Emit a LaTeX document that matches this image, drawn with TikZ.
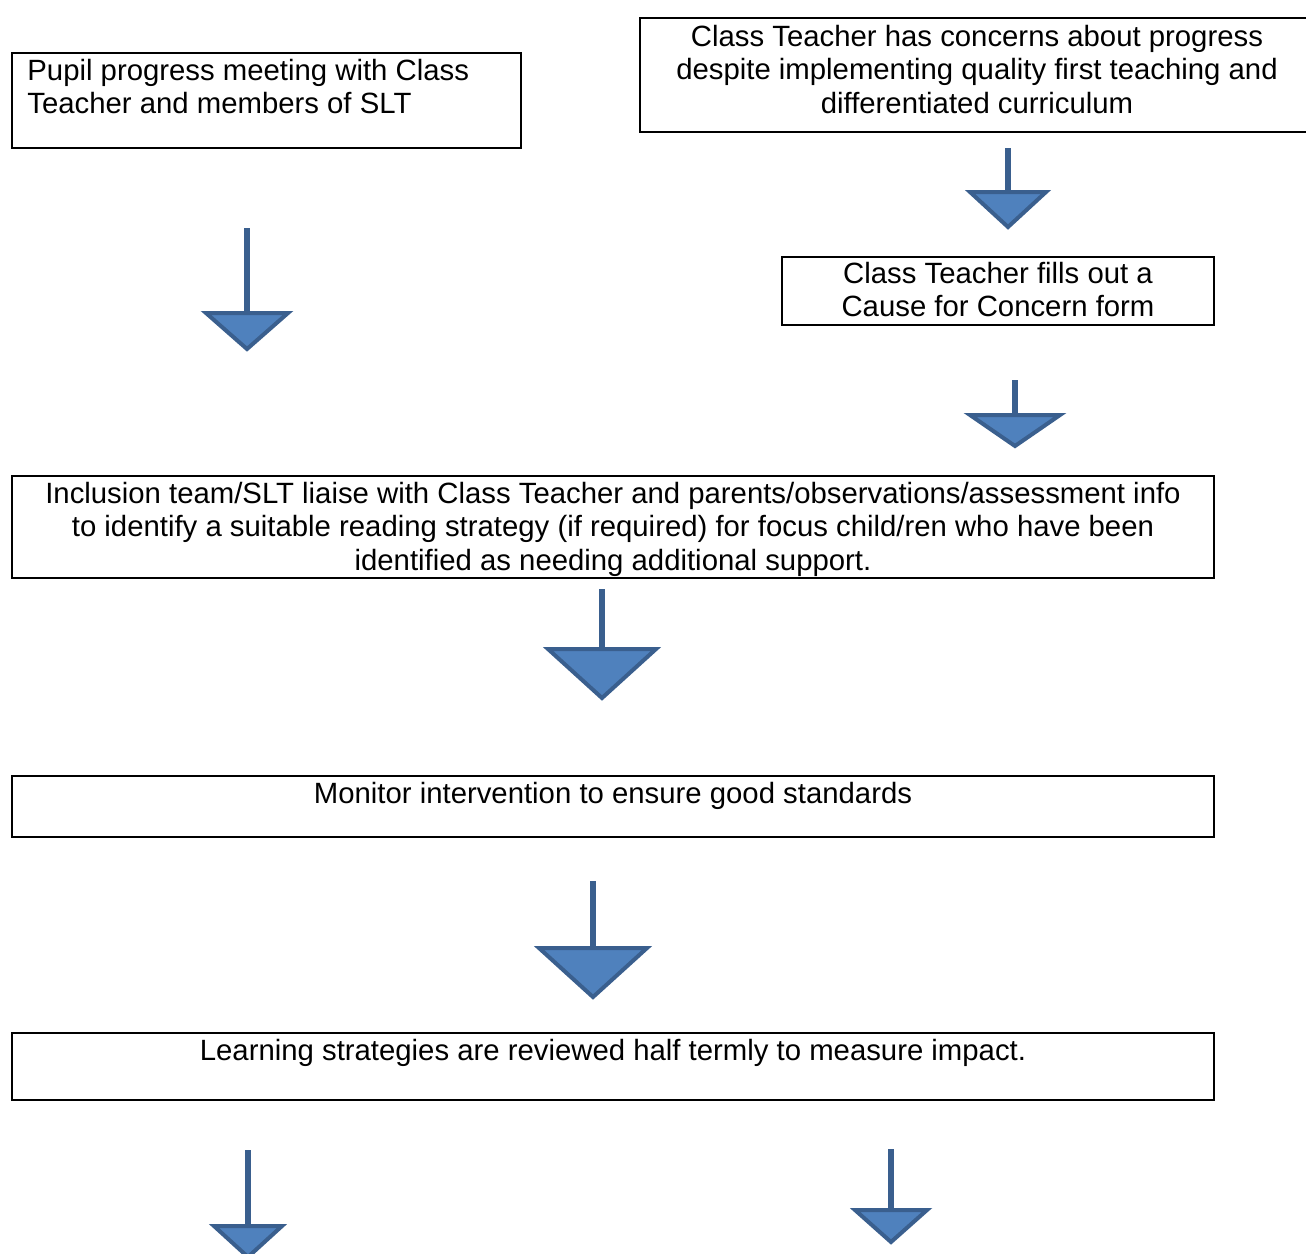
\documentclass[tikz,border=0pt]{standalone}
\usepackage{fontspec}
\setmainfont{Liberation Sans}
\definecolor{arrowfill}{HTML}{4F81BD}
\definecolor{arrowline}{HTML}{3A5F8E}
\begin{document}
\begin{tikzpicture}[x=.5pt,y=-.5pt,every node/.style={font=\fontsize{14.66}{16.75}\selectfont,inner sep=0pt,align=center,anchor=base},
	box/.style={line width=1.4pt},
	stem/.style={arrowline,line width=3pt},
	head/.style={fill=arrowfill,draw=arrowline,line width=2pt,line join=miter}]
		\useasboundingbox(0,0)rectangle(1306,1253);
		%boxes
		\draw[box](12,53)rectangle(521,148);
		\draw[box](640,18)rectangle(1320,132);
		\draw[box](782,257)rectangle(1214,325);
		\draw[box](12,476)rectangle(1214,578);
		\draw[box](12,776)rectangle(1214,837);
		\draw[box](12,1033)rectangle(1214,1100);
		%texts (base = last line)
		\node[align=left,anchor=base west](pupil)at(27,113.5){Pupil progress meeting with Class\\Teacher and members of SLT};
		\node(concern)at(977,113){Class Teacher has concerns about progress\\despite implementing quality first teaching and\\differentiated curriculum};
		\node(form)at(998,316.5){Class Teacher fills out a\\Cause for Concern form};
		\node(liaise)at(613,570){Inclusion team/SLT liaise with Class Teacher and parents/observations/assessment info\\to identify a suitable reading strategy (if required) for focus child/ren who have been\\identified as needing additional support.};
		\node(monitor)at(613,803){Monitor intervention to ensure good standards};
		\node(review)at(613,1060){Learning strategies are reviewed half termly to measure impact.};
		%block arrows: x, stem top, head top, tip, half width
		\foreach\x/\s/\h/\t/\w in{247/228/311/352/43,1008/148/190/230/40,1015/380/413/449/47,602/589/647/701/56,593/881/946/1000/56,248/1150/1224/1260/36,891/1149/1208/1245/38}{
			\draw[stem](\x,\s)--(\x,\h+2);
			\draw[head](\x-\w+2,\h+2)--(\x+\w-2,\h+2)--(\x,\t-3)--cycle;
		}
	\end{tikzpicture}
\end{document}
